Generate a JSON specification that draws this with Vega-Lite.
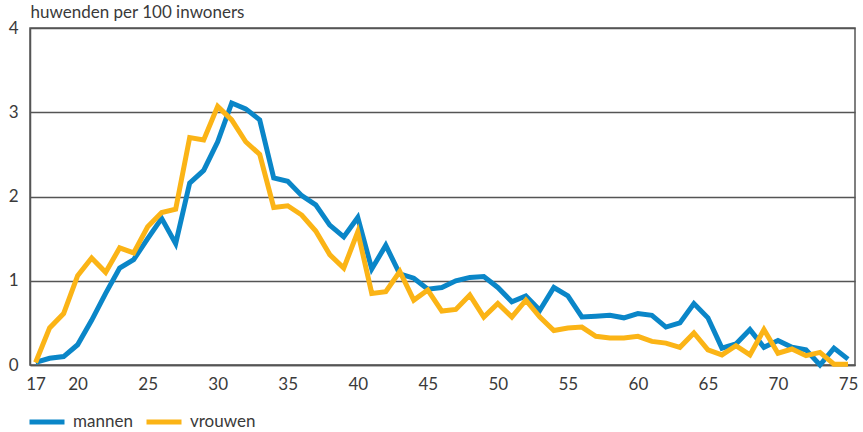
{
  "$schema": "https://vega.github.io/schema/vega-lite/v6.json",
  "width": 825,
  "height": 337,
  "autosize": {"type": "none"},
  "padding": {"left": 30, "top": 28, "right": 8, "bottom": 67},
  "background": "white",
  "config": {
    "view": {"stroke": "#555555", "strokeWidth": 1.5},
    "font": "Lato"
  },
  "datasets": {
    "d": [
      {"age":17,"sex":"mannen","value":0.03},{"age":18,"sex":"mannen","value":0.08},{"age":19,"sex":"mannen","value":0.10},{"age":20,"sex":"mannen","value":0.24},
      {"age":21,"sex":"mannen","value":0.53},{"age":22,"sex":"mannen","value":0.85},{"age":23,"sex":"mannen","value":1.15},{"age":24,"sex":"mannen","value":1.25},
      {"age":25,"sex":"mannen","value":1.50},{"age":26,"sex":"mannen","value":1.74},{"age":27,"sex":"mannen","value":1.44},{"age":28,"sex":"mannen","value":2.16},
      {"age":29,"sex":"mannen","value":2.31},{"age":30,"sex":"mannen","value":2.65},{"age":31,"sex":"mannen","value":3.11},{"age":32,"sex":"mannen","value":3.04},
      {"age":33,"sex":"mannen","value":2.91},{"age":34,"sex":"mannen","value":2.22},{"age":35,"sex":"mannen","value":2.18},{"age":36,"sex":"mannen","value":2.01},
      {"age":37,"sex":"mannen","value":1.90},{"age":38,"sex":"mannen","value":1.66},{"age":39,"sex":"mannen","value":1.52},{"age":40,"sex":"mannen","value":1.75},
      {"age":41,"sex":"mannen","value":1.14},{"age":42,"sex":"mannen","value":1.42},{"age":43,"sex":"mannen","value":1.08},{"age":44,"sex":"mannen","value":1.03},
      {"age":45,"sex":"mannen","value":0.90},{"age":46,"sex":"mannen","value":0.92},{"age":47,"sex":"mannen","value":1.00},{"age":48,"sex":"mannen","value":1.04},
      {"age":49,"sex":"mannen","value":1.05},{"age":50,"sex":"mannen","value":0.92},{"age":51,"sex":"mannen","value":0.75},{"age":52,"sex":"mannen","value":0.82},
      {"age":53,"sex":"mannen","value":0.65},{"age":54,"sex":"mannen","value":0.92},{"age":55,"sex":"mannen","value":0.82},{"age":56,"sex":"mannen","value":0.57},
      {"age":57,"sex":"mannen","value":0.58},{"age":58,"sex":"mannen","value":0.59},{"age":59,"sex":"mannen","value":0.56},{"age":60,"sex":"mannen","value":0.61},
      {"age":61,"sex":"mannen","value":0.59},{"age":62,"sex":"mannen","value":0.45},{"age":63,"sex":"mannen","value":0.50},{"age":64,"sex":"mannen","value":0.73},
      {"age":65,"sex":"mannen","value":0.56},{"age":66,"sex":"mannen","value":0.20},{"age":67,"sex":"mannen","value":0.25},{"age":68,"sex":"mannen","value":0.42},
      {"age":69,"sex":"mannen","value":0.21},{"age":70,"sex":"mannen","value":0.29},{"age":71,"sex":"mannen","value":0.21},{"age":72,"sex":"mannen","value":0.18},
      {"age":73,"sex":"mannen","value":0.00},{"age":74,"sex":"mannen","value":0.20},{"age":75,"sex":"mannen","value":0.07},
      {"age":17,"sex":"vrouwen","value":0.03},{"age":18,"sex":"vrouwen","value":0.44},{"age":19,"sex":"vrouwen","value":0.61},{"age":20,"sex":"vrouwen","value":1.06},
      {"age":21,"sex":"vrouwen","value":1.27},{"age":22,"sex":"vrouwen","value":1.10},{"age":23,"sex":"vrouwen","value":1.39},{"age":24,"sex":"vrouwen","value":1.33},
      {"age":25,"sex":"vrouwen","value":1.64},{"age":26,"sex":"vrouwen","value":1.81},{"age":27,"sex":"vrouwen","value":1.85},{"age":28,"sex":"vrouwen","value":2.70},
      {"age":29,"sex":"vrouwen","value":2.67},{"age":30,"sex":"vrouwen","value":3.07},{"age":31,"sex":"vrouwen","value":2.91},{"age":32,"sex":"vrouwen","value":2.65},
      {"age":33,"sex":"vrouwen","value":2.50},{"age":34,"sex":"vrouwen","value":1.87},{"age":35,"sex":"vrouwen","value":1.89},{"age":36,"sex":"vrouwen","value":1.78},
      {"age":37,"sex":"vrouwen","value":1.59},{"age":38,"sex":"vrouwen","value":1.31},{"age":39,"sex":"vrouwen","value":1.15},{"age":40,"sex":"vrouwen","value":1.58},
      {"age":41,"sex":"vrouwen","value":0.85},{"age":42,"sex":"vrouwen","value":0.87},{"age":43,"sex":"vrouwen","value":1.11},{"age":44,"sex":"vrouwen","value":0.77},
      {"age":45,"sex":"vrouwen","value":0.89},{"age":46,"sex":"vrouwen","value":0.64},{"age":47,"sex":"vrouwen","value":0.66},{"age":48,"sex":"vrouwen","value":0.83},
      {"age":49,"sex":"vrouwen","value":0.57},{"age":50,"sex":"vrouwen","value":0.73},{"age":51,"sex":"vrouwen","value":0.57},{"age":52,"sex":"vrouwen","value":0.77},
      {"age":53,"sex":"vrouwen","value":0.57},{"age":54,"sex":"vrouwen","value":0.41},{"age":55,"sex":"vrouwen","value":0.44},{"age":56,"sex":"vrouwen","value":0.45},
      {"age":57,"sex":"vrouwen","value":0.34},{"age":58,"sex":"vrouwen","value":0.32},{"age":59,"sex":"vrouwen","value":0.32},{"age":60,"sex":"vrouwen","value":0.34},
      {"age":61,"sex":"vrouwen","value":0.28},{"age":62,"sex":"vrouwen","value":0.26},{"age":63,"sex":"vrouwen","value":0.21},{"age":64,"sex":"vrouwen","value":0.38},
      {"age":65,"sex":"vrouwen","value":0.18},{"age":66,"sex":"vrouwen","value":0.12},{"age":67,"sex":"vrouwen","value":0.23},{"age":68,"sex":"vrouwen","value":0.12},
      {"age":69,"sex":"vrouwen","value":0.42},{"age":70,"sex":"vrouwen","value":0.14},{"age":71,"sex":"vrouwen","value":0.19},{"age":72,"sex":"vrouwen","value":0.11},
      {"age":73,"sex":"vrouwen","value":0.15},{"age":74,"sex":"vrouwen","value":0.01},{"age":75,"sex":"vrouwen","value":0.01}
    ]
  },
  "data": {"name": "d"},
  "mark": {"type": "line", "strokeWidth": 5, "clip": false},
  "encoding": {
    "x": {
      "field": "age", "type": "quantitative",
      "scale": {"domain": [16.6, 75.5], "nice": false, "zero": false},
      "axis": {
        "title": null, "values": [17,20,25,30,35,40,45,50,55,60,65,70,75],
        "grid": false, "ticks": false, "domain": true, "domainColor": "#555555", "domainWidth": 1.5,
        "labelFontSize": 17, "labelColor": "#3a3a3a", "labelPadding": 11, "labelFont": "Lato", "labelFontWeight": 400
      }
    },
    "y": {
      "field": "value", "type": "quantitative",
      "scale": {"domain": [0, 4], "nice": false},
      "axis": {
        "values": [0,1,2,3,4], "grid": true, "gridColor": "#555555", "gridWidth": 1.5,
        "ticks": false, "domain": true, "domainColor": "#555555", "domainWidth": 1.5,
        "labelFontSize": 17, "labelColor": "#3a3a3a", "labelPadding": 12, "labelFont": "Lato", "labelFontWeight": 400,
        "title": "huwenden per 100 inwoners", "titleAngle": 0, "titleX": 0, "titleY": -7,
        "titleAlign": "left", "titleBaseline": "bottom", "titleFontSize": 17, "titleFont": "Lato",
        "titleFontWeight": 400, "titleColor": "#3a3a3a"
      }
    },
    "color": {
      "field": "sex", "type": "nominal",
      "scale": {"domain": ["mannen", "vrouwen"], "range": ["#0a86c8", "#fbb416"]},
      "legend": {
        "title": null, "orient": "none", "legendX": -3, "legendY": 374, "direction": "horizontal",
        "symbolType": "stroke", "symbolSize": 1225, "symbolStrokeWidth": 5,
        "labelFontSize": 17, "labelColor": "#3a3a3a", "labelFont": "Lato", "labelFontWeight": 400,
        "labelOffset": 6, "columnPadding": 3
      }
    }
  }
}
